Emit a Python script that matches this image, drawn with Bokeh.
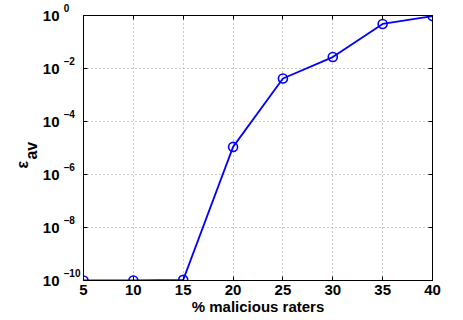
from bokeh.plotting import figure
from bokeh.models import (FixedTicker, LinearAxis, LogAxis, Title, Range1d,
                          ColumnDataSource, CustomJSTickFormatter)
from bokeh.embed import file_html
from bokeh.resources import INLINE

# ---- data ----
pct_malicious = [5, 10, 15, 20, 25, 30, 35, 40]
eps_av = [1.0e-10, 1.0e-10, 1.06e-10, 1.1e-5, 4.2e-3, 2.7e-2, 4.8e-1, 9.5e-1]

x_ticks = [5, 10, 15, 20, 25, 30, 35, 40]
y_ticks = [1e-10, 1e-8, 1e-6, 1e-4, 1e-2, 1e0]
y_tick_base = "10"
y_tick_exponents = ["–10", "–8", "–6", "–4", "–2", "0"]
x_label = "% malicious raters"
y_label_main = "ε"
y_label_sub = "av"

FONT = "Liberation Sans"
NBSP = "\u00a0"

p = figure(width=463, height=320, y_axis_type="log",
           x_range=Range1d(5, 40), y_range=Range1d(1e-10, 1e0),
           output_backend="svg", toolbar_location=None,
           min_border_left=83, min_border_right=31,
           min_border_top=15, min_border_bottom=40)
p.background_fill_color = "white"
p.border_fill_color = "white"
p.outline_line_color = "black"
p.outline_line_width = 1

src = ColumnDataSource(dict(x=pct_malicious, y=eps_av))
p.line("x", "y", source=src, line_color="#0000ff", line_width=1.8)
p.scatter("x", "y", source=src, marker="circle", size=9, fill_color=None,
          line_color="#0000ff", line_width=1.6)

# x axis
xa = p.xaxis[0]
xa.ticker = FixedTicker(ticks=x_ticks)
xa.major_tick_in = 4
xa.major_tick_out = 0
xa.minor_tick_line_color = None
xa.axis_line_color = "black"
xa.major_label_text_font = FONT
xa.major_label_text_font_style = "bold"
xa.major_label_text_font_size = "15px"
xa.major_label_text_color = "black"
xa.major_label_standoff = 4
xa.axis_label = x_label
xa.axis_label_text_font = FONT
xa.axis_label_text_font_style = "bold"
xa.axis_label_text_font_size = "15px"
xa.axis_label_text_color = "black"
xa.axis_label_standoff = 0

# y axis (inner): ticks + exponent part of labels, raised like superscripts
def pad(e):
    # every glyph used is one digit wide; pad with two NBSP per missing glyph
    return e + NBSP * (2 * (3 - len(e)))

ya = p.yaxis[0]
ya.ticker = FixedTicker(ticks=y_ticks)
ya.major_label_overrides = {t: pad(e) + "\n" for t, e in zip(y_ticks, y_tick_exponents)}
ya.major_tick_in = 4
ya.major_tick_out = 0
ya.minor_tick_line_color = None
ya.axis_line_color = "black"
ya.major_label_text_font = FONT
ya.major_label_text_font_style = "bold"
ya.major_label_text_font_size = "10px"
ya.major_label_text_color = "black"
ya.major_label_standoff = 3

# y axis (outer): the "10" base of the labels
ya_base = LogAxis(ticker=FixedTicker(ticks=y_ticks),
                  major_label_overrides={t: y_tick_base for t in y_ticks},
                  major_tick_in=0, major_tick_out=0, major_tick_line_color=None,
                  minor_tick_line_color=None, axis_line_color=None,
                  major_label_text_font=FONT, major_label_text_font_style="bold",
                  major_label_text_font_size="15px", major_label_text_color="black",
                  major_label_standoff=1)
p.add_layout(ya_base, "left")

# top/right ticks (box), no labels
top = LinearAxis(ticker=FixedTicker(ticks=x_ticks), major_tick_in=4, major_tick_out=0,
                 minor_tick_line_color=None, formatter=CustomJSTickFormatter(code="return '';"),
                 major_label_standoff=0, axis_line_color="black")
right = LogAxis(ticker=FixedTicker(ticks=y_ticks), major_tick_in=4, major_tick_out=0,
                minor_tick_line_color=None, formatter=CustomJSTickFormatter(code="return '';"),
                major_label_standoff=0, axis_line_color="black")
p.add_layout(top, "above")
p.add_layout(right, "right")

# grid
for g in (p.xgrid[0], p.ygrid[0]):
    g.grid_line_color = "#999999"
    g.grid_line_dash = "1 3"
    g.grid_line_width = 1
p.ygrid[0].ticker = FixedTicker(ticks=y_ticks)
p.xgrid[0].ticker = FixedTicker(ticks=x_ticks)

# y axis label: epsilon with subscript "av" (second line, shifted)
t_y = Title(text=y_label_main + "\n" + NBSP * 2 + y_label_sub,
            align="left", offset=112, standoff=0, vertical_align="bottom",
            text_font=FONT, text_font_style="bold", text_font_size="16px",
            text_line_height=0.5, text_color="black")
p.add_layout(t_y, "left")

open("out.html", "w").write(file_html(p, INLINE))
